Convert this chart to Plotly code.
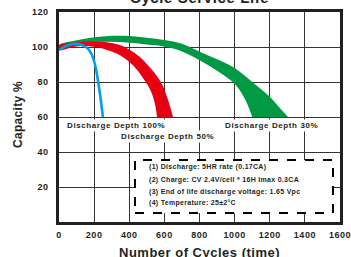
import plotly.graph_objects as go

# ---- data ----
# Discharge depth 100% (blue line)
blue_x = [0, 40, 90, 130, 160, 185, 205, 220, 235, 250]
blue_y = [98.3, 100.6, 101.8, 101.2, 99.5, 96, 90, 82, 72, 60]

# Discharge depth 50% (red band): outer and inner edge
red_outer_x = [0, 100, 200, 250, 350, 420, 470, 520, 560, 590, 620, 649]
red_outer_y = [101, 102.7, 103, 103, 101, 97.3, 93.5, 88, 83, 78, 70, 60]
red_inner_x = [0, 100, 200, 300, 350, 420, 480, 520, 545, 558]
red_inner_y = [98.3, 100.3, 100.2, 97.5, 95.2, 89.7, 82, 75.4, 68, 60]

# Discharge depth 30% (green band): outer and inner edge
green_outer_x = [0, 100, 165, 300, 400, 500, 600, 700, 800, 900, 1000, 1100, 1200, 1250, 1304]
green_outer_y = [101, 103.8, 105, 106.4, 106.3, 105.3, 104, 101.8, 97.3, 93, 88, 80, 71.6, 66, 60]
green_inner_x = [0, 100, 233, 400, 500, 600, 700, 800, 900, 1000, 1060, 1100]
green_inner_y = [99, 101.8, 103, 102.5, 101.5, 100.3, 97.5, 92.5, 86.5, 79, 70, 60]

x_ticks = [0, 200, 400, 600, 800, 1000, 1200, 1400, 1600]
y_ticks = [20, 40, 60, 80, 100, 120]

labels = ["Discharge Depth 100%", "Discharge Depth 50%", "Discharge Depth 30%"]
label_x = [34, 342, 934]
label_y = [55.4, 48.6, 55.4]

notes = [
    "(1) Discharge: 5HR rate (0.17CA)",
    "(2) Charge: CV 2.4V/cell * 16H Imax 0.3CA",
    "(3) End of life discharge voltage: 1.65 Vpc",
    "(4) Temperature: 25±2°C",
]

FONT = "Arial, Liberation Sans, sans-serif"
GRID = "#3a3334"
DARK = "#231f20"

# pixel geometry of the plot area
L, R, T, B = 59, 340, 12, 222
W, H = R - L, B - T


def px(x):
    return (x - L) / W


def py(y):
    return (B - y) / H


def spaced(t, s):
    return '<b><span style="letter-spacing:%spx">%s</span></b>' % (s, t)


fig = go.Figure()


def band(ox, oy, ix, iy, color):
    # closed outline: outer edge walked backwards, then inner edge forwards;
    # the closing segment runs along the 60 % cut.
    xs = list(reversed(ox)) + list(ix)
    ys = list(reversed(oy)) + list(iy)
    fig.add_trace(go.Scatter(x=xs, y=ys, mode="lines", fill="toself", fillcolor=color,
                             line=dict(width=0, color=color, shape="spline", smoothing=1),
                             hoverinfo="skip", showlegend=False))


band(green_outer_x, green_outer_y, green_inner_x, green_inner_y, "#009a44")
band(red_outer_x, red_outer_y, red_inner_x, red_inner_y, "#e60012")
fig.add_trace(go.Scatter(x=blue_x, y=blue_y, mode="lines",
                         line=dict(color="#00a0e9", width=2.6, shape="spline", smoothing=1),
                         showlegend=False, hoverinfo="skip"))

for t, lx, ly in zip(labels, label_x, label_y):
    fig.add_annotation(x=lx, y=ly, xref="x", yref="y", text=spaced(t, 0.6),
                       showarrow=False, xanchor="left", yanchor="middle",
                       bgcolor="white", borderpad=1,
                       font=dict(family=FONT, size=8, color=DARK))

# dashed notes box
fig.add_shape(type="rect", xref="paper", yref="paper",
              x0=px(135), x1=px(333), y0=py(213), y1=py(160),
              line=dict(color="black", width=2, dash="dash"), fillcolor="white", layer="above")
note_py = [166.7, 180, 192, 203]
for t, yy in zip(notes, note_py):
    fig.add_annotation(x=px(147), y=py(yy), xref="paper", yref="paper",
                       text=spaced(t, 0.3), showarrow=False, xanchor="left", yanchor="middle",
                       font=dict(family=FONT, size=7, color=DARK))

# clipped title
fig.add_annotation(x=px(199), y=py(8), xref="paper", yref="paper",
                   text=spaced("Cycle Service Life", 0.6), showarrow=False,
                   xanchor="center", yanchor="bottom",
                   font=dict(family=FONT, size=15, color=DARK))

# axis titles
fig.add_annotation(x=px(199), y=py(252), xref="paper", yref="paper",
                   text=spaced("Number of Cycles (time)", 0.5), showarrow=False,
                   xanchor="center", yanchor="middle",
                   font=dict(family=FONT, size=13, color=DARK))
fig.add_annotation(x=px(18), y=py(115), xref="paper", yref="paper",
                   text=spaced("Capacity %", 0.3), showarrow=False, textangle=-90,
                   xanchor="center", yanchor="middle",
                   font=dict(family=FONT, size=12, color=DARK))

fig.update_layout(
    width=351, height=257,
    margin=dict(l=L, r=351 - R, t=T, b=257 - B),
    paper_bgcolor="white", plot_bgcolor="white",
    font=dict(family=FONT, color=DARK),
)
fig.update_xaxes(range=[0, 1600], tickvals=x_ticks, ticktext=[spaced(v, 0.5) for v in x_ticks],
                 tickfont=dict(size=9, family=FONT, color=DARK), ticklabeloverflow="allow",
                 showgrid=True, gridcolor=GRID, gridwidth=1.4,
                 showline=True, linecolor=DARK, linewidth=2.5, mirror=True,
                 ticks="", ticklabelstandoff=2, zeroline=False, automargin=False)
fig.update_yaxes(range=[0, 120], tickvals=y_ticks, ticktext=[spaced(v, 0.5) for v in y_ticks],
                 tickfont=dict(size=9, family=FONT, color=DARK), ticklabeloverflow="allow",
                 showgrid=True, gridcolor=GRID, gridwidth=1.4,
                 showline=True, linecolor=DARK, linewidth=2.5, mirror=True,
                 ticks="", ticklabelstandoff=6, zeroline=False, automargin=False)

fig.write_html("out.html", config={"displayModeBar": False},
               post_script="document.body.style.margin='0px';")
